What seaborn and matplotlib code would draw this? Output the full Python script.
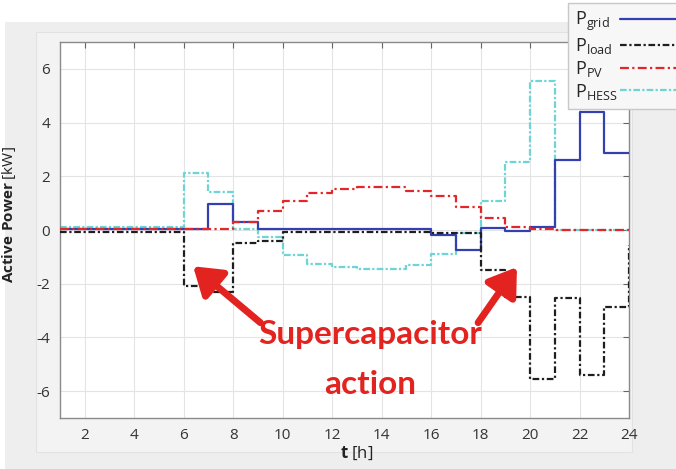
import matplotlib
matplotlib.use("Agg")
import matplotlib.pyplot as plt
from matplotlib.patches import Rectangle
import seaborn as sns
import numpy as np

# ---- data (hourly step values, value at t holds for [t, t+1)) ----
hours = list(range(1, 25))
p_grid = [0.02, 0.02, 0.02, 0.02, 0.02, 0.02, 0.95, 0.30, 0.02, 0.02, 0.02, 0.02,
          0.02, 0.02, 0.02, -0.20, -0.75, 0.08, -0.05, 0.10, 2.60, 4.40, 2.85, 2.85]
p_load = [-0.08, -0.08, -0.08, -0.08, -0.08, -2.10, -2.30, -0.50, -0.40, -0.08, -0.08, -0.08,
          -0.08, -0.08, -0.08, -0.10, -0.10, -1.50, -2.50, -5.55, -2.55, -5.40, -2.85, -0.55]
p_pv = [0.03, 0.03, 0.03, 0.03, 0.03, 0.03, 0.03, 0.30, 0.72, 1.07, 1.37, 1.52,
        1.60, 1.60, 1.46, 1.25, 0.85, 0.44, 0.10, 0.05, 0.0, 0.0, 0.0, 0.0]
p_hess = [0.10, 0.10, 0.10, 0.10, 0.10, 2.12, 1.40, 0.05, -0.27, -0.92, -1.25, -1.38,
          -1.47, -1.47, -1.31, -0.91, -0.12, 1.09, 2.53, 5.55, 0.0, 0.0, 0.0, 0.0]
labels = [r"$\mathrm{P}_{\mathrm{grid}}$", r"$\mathrm{P}_{\mathrm{load}}$",
          r"$\mathrm{P}_{\mathrm{PV}}$", r"$\mathrm{P}_{\mathrm{HESS}}$"]
x_ticks = [2, 4, 6, 8, 10, 12, 14, 16, 18, 20, 22, 24]
y_ticks = [-6, -4, -2, 0, 2, 4, 6]
annot_line1 = "Supercapacitor"
annot_line2 = "action"

sns.set_style("white")
plt.rcParams["font.family"] = ["Open Sans", "DejaVu Sans"]
plt.rcParams["mathtext.fontset"] = "custom"
plt.rcParams["mathtext.rm"] = "Open Sans"
plt.rcParams["mathtext.it"] = "Open Sans"
plt.rcParams["mathtext.bf"] = "Open Sans:bold"
plt.rcParams["axes.unicode_minus"] = False

W, H = 676, 469
fig = plt.figure(figsize=(W / 100, H / 100), dpi=100)
fig.patch.set_facecolor("white")
# MATLAB-like gray background panels
fig.patches.append(Rectangle((5 / W, 0), 1, 1 - 22 / H, transform=fig.transFigure,
                             facecolor="#eeeeee", edgecolor="none", zorder=-2))
fig.patches.append(Rectangle((36 / W, 1 - 452 / H), (632 - 36) / W, (452 - 32) / H,
                             transform=fig.transFigure, facecolor="#f3f3f3",
                             edgecolor="#e2e2e2", lw=0.8, zorder=-1))

ax = fig.add_axes([60 / W, 1 - 418 / H, (629 - 60) / W, (418 - 42) / H])
ax.set_zorder(1)
ax.set_facecolor("white")

c_grid = "#3540b0"
c_load = "#1e1e1e"
c_pv = "#e3262a"
c_hess = "#6dd5d5"

lw = 1.6
sns.lineplot(x=hours, y=p_grid, ax=ax, color=c_grid, lw=lw, drawstyle="steps-post",
             label=labels[0], zorder=3)
sns.lineplot(x=hours, y=p_load, ax=ax, color=c_load, lw=lw, drawstyle="steps-post",
             linestyle=(0, (3, 1.2, 1, 1.2)), label=labels[1], zorder=4)
sns.lineplot(x=hours, y=p_pv, ax=ax, color=c_pv, lw=lw, drawstyle="steps-post",
             linestyle=(0, (4, 1.5, 1, 1.5)), label=labels[2], zorder=3)
sns.lineplot(x=hours, y=p_hess, ax=ax, color=c_hess, lw=lw, drawstyle="steps-post",
             linestyle=(0, (3, 1, 1, 1)), label=labels[3], zorder=2)

ax.set_xlim(1, 24)
ax.set_ylim(-7, 7)
ax.set_xticks(x_ticks)
ax.set_yticks(y_ticks)
ax.grid(True, color="#e4e4e4", lw=0.8)
ax.set_axisbelow(True)
ax.tick_params(direction="in", top=True, right=True, length=4, width=0.8,
               color="#666666", labelsize=11, labelcolor="#333333", pad=7)
for s in ax.spines.values():
    s.set_color("#8a8a8a")
    s.set_linewidth(1.0)

ax.set_ylabel(r"$\mathbf{Active\ Power}$ [kW]", fontsize=11, color="#222222")
ax.yaxis.set_label_coords(-0.073, 0.54)
ax.set_xlabel(r"$\mathbf{t}$ [h]", fontsize=12, color="#222222")
ax.xaxis.set_label_coords(0.522, -0.072)

# legend, partly outside figure (like reference)
leg = ax.legend(loc="upper left", bbox_to_anchor=(568 / W, 1 - 3 / H),
                bbox_transform=fig.transFigure, markerfirst=False, fontsize=13,
                frameon=True, fancybox=False, handlelength=5, handletextpad=0.15,
                labelspacing=0.15, borderpad=0.4, borderaxespad=0)
leg.get_frame().set_facecolor("#f7f7f7")
leg.get_frame().set_edgecolor("#c8c8c8")
leg.get_frame().set_alpha(1)
leg.set_zorder(10)

# left-align legend labels while keeping the line samples aligned
fig.canvas.draw()
renderer = fig.canvas.get_renderer()
col = leg._legend_handle_box.get_children()[0]
rows = col.get_children()
widths = [r.get_children()[0].get_bbox(renderer).width for r in rows]
maxw = max(widths)
p2p = renderer.points_to_pixels(1.0)
for r, w in zip(rows, widths):
    r.sep = r.sep + (maxw - w) / p2p
col.align = "left"

red = "#e2231f"
arrow_kw = dict(arrowstyle="-|>,head_length=0.9,head_width=0.6", color=red, lw=5,
                mutation_scale=18, shrinkA=0, shrinkB=0)
ax.annotate("", xy=(6.38, -1.35), xytext=(9.1, -3.45), arrowprops=arrow_kw, zorder=6)
ax.annotate("", xy=(19.47, -1.38), xytext=(17.9, -3.45), arrowprops=arrow_kw, zorder=6)

tfont = ["Lato", "DejaVu Sans"]
ax.text(370 / W, 1 - 344 / H, annot_line1, ha="center", va="baseline", color=red,
        fontsize=24, fontweight="bold", family=tfont, transform=fig.transFigure, zorder=7)
ax.text(370 / W, 1 - 394 / H, annot_line2, ha="center", va="baseline", color=red,
        fontsize=24, fontweight="bold", family=tfont, transform=fig.transFigure, zorder=7)

fig.savefig("out.png", dpi=100, facecolor=fig.get_facecolor())
